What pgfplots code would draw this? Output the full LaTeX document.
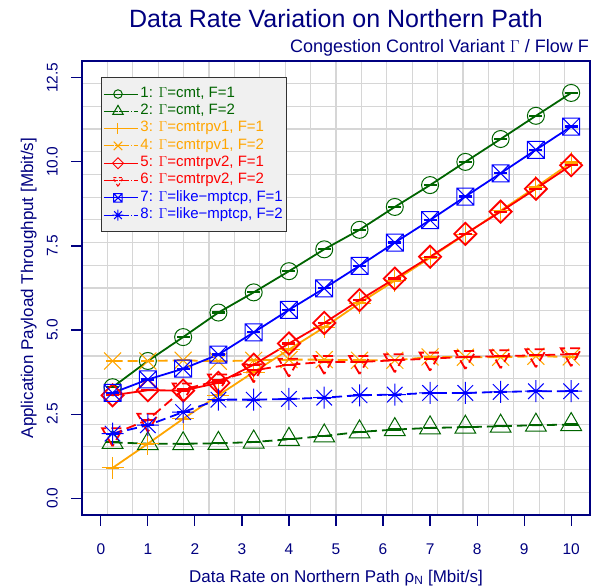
\documentclass[border=0pt]{standalone}
\usepackage{fontspec}
\setmainfont{Liberation Sans}
\usepackage{pgfplots}
\usepackage{pgfplotstable}
\pgfplotsset{compat=1.18}

\definecolor{navyc}{RGB}{0,0,128}
\definecolor{dgreen}{RGB}{0,100,0}
\definecolor{orng}{RGB}{255,165,0}
\definecolor{rd}{RGB}{255,0,0}
\definecolor{bl}{RGB}{0,0,255}
\definecolor{gridc}{RGB}{214,214,214}
\definecolor{legfill}{RGB}{240,240,240}
\definecolor{legdraw}{RGB}{50,50,50}

% square with a cross (R pch 7)
\pgfdeclareplotmark{boxx}{%
  \pgfpathrectangle{\pgfqpoint{-\pgfplotmarksize}{-\pgfplotmarksize}}{\pgfqpoint{2\pgfplotmarksize}{2\pgfplotmarksize}}%
  \pgfpathmoveto{\pgfqpoint{-\pgfplotmarksize}{-\pgfplotmarksize}}%
  \pgfpathlineto{\pgfqpoint{\pgfplotmarksize}{\pgfplotmarksize}}%
  \pgfpathmoveto{\pgfqpoint{-\pgfplotmarksize}{\pgfplotmarksize}}%
  \pgfpathlineto{\pgfqpoint{\pgfplotmarksize}{-\pgfplotmarksize}}%
  \pgfusepathqstroke}
% eight-armed star (R pch 8)
\pgfdeclareplotmark{star8}{%
  \pgfpathmoveto{\pgfqpoint{0pt}{\pgfplotmarksize}}\pgfpathlineto{\pgfqpoint{0pt}{-\pgfplotmarksize}}%
  \pgfpathmoveto{\pgfqpoint{\pgfplotmarksize}{0pt}}\pgfpathlineto{\pgfqpoint{-\pgfplotmarksize}{0pt}}%
  \pgfpathmoveto{\pgfqpoint{.707\pgfplotmarksize}{.707\pgfplotmarksize}}\pgfpathlineto{\pgfqpoint{-.707\pgfplotmarksize}{-.707\pgfplotmarksize}}%
  \pgfpathmoveto{\pgfqpoint{-.707\pgfplotmarksize}{.707\pgfplotmarksize}}\pgfpathlineto{\pgfqpoint{.707\pgfplotmarksize}{-.707\pgfplotmarksize}}%
  \pgfusepathqstroke}

\pgfplotstableread{
x     s1    s2   s3   s4   s5   s6   s7    s8
0.25  3.30  1.66 0.90 4.08 3.06 1.90 3.13  1.92
1.00  4.08  1.62 1.62 4.08 3.21 2.33 3.53  2.17
1.75  4.79  1.62 2.36 4.10 3.20 3.23 3.85  2.56
2.50  5.52  1.63 3.06 4.07 3.43 3.50 4.27  2.93
3.25  6.12  1.67 3.75 4.10 3.97 3.80 4.93  2.93
4.00  6.75  1.75 4.42 4.12 4.60 3.97 5.60  2.95
4.75  7.40  1.85 5.08 4.12 5.21 4.05 6.24  2.99
5.50  7.98  1.97 5.80 4.10 5.89 4.05 6.91  3.06
6.25  8.66  2.04 6.47 4.10 6.53 4.10 7.60  3.08
7.00  9.31  2.09 7.15 4.20 7.18 4.15 8.27  3.13
7.75  10.00 2.11 7.85 4.19 7.86 4.20 8.97  3.13
8.50  10.68 2.14 8.55 4.19 8.52 4.22 9.66  3.16
9.25  11.37 2.17 9.25 4.22 9.20 4.25 10.36 3.18
10.00 12.05 2.19 9.98 4.20 9.90 4.28 11.05 3.18
}\data

\begin{document}
\begin{tikzpicture}
\useasboundingbox (0,0) rectangle (606pt,587pt);
\begin{axis}[
  at={(82pt,72pt)}, anchor=south west,
  scale only axis, width=508pt, height=454pt,
  xmin=-0.4, xmax=10.4, ymin=-0.5, ymax=13.0,
  xtick={0,1,...,10},
  ytick={0,2.5,5,7.5,10,12.5},
  /pgf/number format/assume math mode=true,
  minor xtick={0.14,0.68,1.22,1.76,2.30,2.84,3.38,3.92,4.46,5.00,5.54,6.08,6.62,7.16,7.70,8.24,8.78,9.32,9.86},
  minor ytick={0.175,0.85,1.525,2.2,2.875,3.55,4.225,4.9,5.575,6.25,6.925,7.6,8.275,8.95,9.625,10.3,10.975,11.65,12.325},
  xminorgrids=true, yminorgrids=true,
  minor grid style={gridc, line width=1.2pt},
  minor tick length=0pt,
  tick pos=left, tick align=outside,
  major tick length=11pt,
  tick style={navyc, line width=1.2pt},
  axis line style={navyc, line width=1.3pt},
  ticklabel style={font=\fontsize{15.5}{18}\selectfont, text=navyc},
  xticklabel style={anchor=base, yshift=-28pt},
  yticklabel style={rotate=90, anchor=base},
  yticklabel shift=13.5pt,
  yticklabel style={/pgf/number format/fixed, /pgf/number format/fixed zerofill, /pgf/number format/precision=1},
  xlabel={Data Rate on Northern Path ρ\textsubscript{N} [Mbit/s]},
  ylabel={Application Payload Throughput [Mbit/s]},
  label style={font=\fontsize{17}{20}\selectfont, text=navyc},
  xlabel style={at={(axis description cs:0.5,-0.1476)}, anchor=base},
  ylabel style={at={(axis description cs:-0.096,0.5)}, anchor=base},
  every axis plot/.append style={line width=1.8pt, mark options={line width=1pt, solid}},
  cap/.style={forget plot, only marks, mark=-, mark size=6.5pt, mark options={line width=2.2pt}},
  legend style={at={(0.0374,0.965)}, anchor=north west,
    fill=legfill, draw=legdraw, line width=1pt,
    font=\fontsize{15}{17.3}\selectfont,
    nodes={inner ysep=0pt, text height=12pt, text depth=5.3pt},
    inner xsep=2pt, inner ysep=8pt, row sep=0pt},
  legend cell align=left,
  legend image code/.code={\path (0pt,0pt) -- (34pt,0pt);\draw[mark repeat=2,mark phase=2,#1] plot coordinates {(0pt,0pt) (14pt,0pt) (28pt,0pt)};},
  legend image post style={line width=1pt, every mark/.append style={scale=0.5}},
  f2/.style={dash pattern=on 10pt off 5pt,
    legend image code/.code={\path (0pt,0pt) -- (34pt,0pt);\draw[mark repeat=2,mark phase=2,##1,dash pattern=on 3pt off 2.5pt] plot coordinates {(0pt,0pt) (14pt,0pt) (28pt,0pt)};}},
]
\addplot[dgreen, mark=o, mark size=8.5pt] table[x=x,y=s1]{\data};
\addlegendentry{\textcolor{dgreen}{1: $\Gamma$=cmt, F=1}}
\addplot[dgreen, cap] table[x=x,y=s1]{\data};
\addplot[dgreen, f2, mark=triangle, mark size=12pt] table[x=x,y=s2]{\data};
\addlegendentry{\textcolor{dgreen}{2: $\Gamma$=cmt, F=2}}
\addplot[dgreen, cap] table[x=x,y=s2]{\data};
\addplot[orng, mark=+, mark size=11pt] table[x=x,y=s3]{\data};
\addlegendentry{\textcolor{orng}{3: $\Gamma$=cmtrpv1, F=1}}
\addplot[orng, cap] table[x=x,y=s3]{\data};
\addplot[orng, f2, mark=x, mark size=12pt] table[x=x,y=s4]{\data};
\addlegendentry{\textcolor{orng}{4: $\Gamma$=cmtrpv1, F=2}}
\addplot[orng, cap] table[x=x,y=s4]{\data};
\addplot[rd, mark=square, mark size=7.8pt, mark options={rotate=45}] table[x=x,y=s5]{\data};
\addlegendentry{\textcolor{rd}{5: $\Gamma$=cmtrpv2, F=1}}
\addplot[rd, cap] table[x=x,y=s5]{\data};
\addplot[rd, f2, mark=triangle, mark size=12pt, mark options={rotate=180}] table[x=x,y=s6]{\data};
\addlegendentry{\textcolor{rd}{6: $\Gamma$=cmtrpv2, F=2}}
\addplot[rd, cap] table[x=x,y=s6]{\data};
\addplot[bl, mark=boxx, mark size=8.5pt] table[x=x,y=s7]{\data};
\addlegendentry{\textcolor{bl}{7: $\Gamma$=like−mptcp, F=1}}
\addplot[bl, cap] table[x=x,y=s7]{\data};
\addplot[bl, f2, mark=star8, mark size=11pt] table[x=x,y=s8]{\data};
\addlegendentry{\textcolor{bl}{8: $\Gamma$=like−mptcp, F=2}}
\addplot[bl, cap] table[x=x,y=s8]{\data};
\end{axis}
\node[anchor=base, text=navyc, font=\fontsize{25}{30}\selectfont] at (336pt,559pt) {Data Rate Variation on Northern Path};
\node[anchor=base east, text=navyc, font=\fontsize{18}{21}\selectfont, inner sep=0pt] at (589pt,534pt) {Congestion Control Variant $\Gamma$ / Flow F};
\end{tikzpicture}
\end{document}
